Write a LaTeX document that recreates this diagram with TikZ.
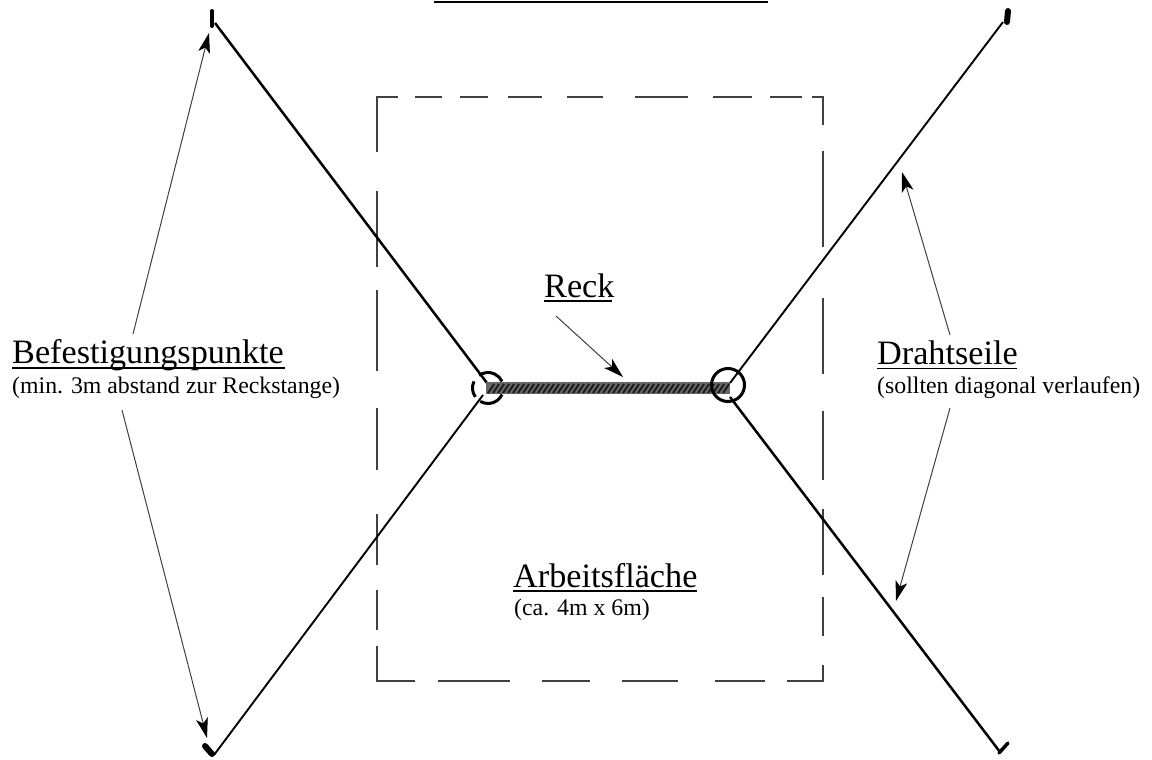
\documentclass[tikz,border=0pt]{standalone}
\usepackage{fontspec}
\setmainfont{Liberation Serif}
\usetikzlibrary{arrows.meta}
\tikzset{
  rope/.style={draw=black,line width=2.5pt},
  thinrope/.style={draw=black,line width=1.9pt},
  lead/.style={draw=black!75,line width=1pt,-{Stealth[length=20pt,width=12pt,inset=5pt,black]}},
  frame/.style={draw=black!75,line width=1.5pt},
  head/.style={inner sep=0pt,anchor=base west,font=\fontsize{34.2}{34.2}\selectfont},
  sub/.style={inner sep=0pt,anchor=base west,font=\fontsize{23.8}{23.8}\selectfont},
  ulinen/.style={draw=black,line width=1.7pt},
  eye/.style={draw=black,line width=3pt},
}
\begin{document}
\begin{tikzpicture}[x=1pt,y=-1pt]
\useasboundingbox (0,0) rectangle (1152,760);
\fill[white] (0,0) rectangle (1152,760);
% top rule
\coordinate (ra) at (434,2); \coordinate (rb) at (768,2);
\draw[draw=black,line width=2.4pt] (ra) -- (rb);
% frame top
\draw[frame] (398,97) -- (377,97) -- (377,152);
\foreach \a/\b in {415/442,460/488,508/542,567/603,635/688,713/752,770/802}{
  \draw[frame] (\a,97) -- (\b,97);}
\draw[frame] (812,97) -- (823,97) -- (823,125);
% frame right
\foreach \a/\b in {151/247,298/374,411/480,509/575,597/636}{
  \draw[frame] (823,\a) -- (823,\b);}
\draw[frame] (823,665) -- (823,681) -- (787,681);
% frame bottom
\foreach \a/\b in {438/510,542/590,622/678,715/765}{
  \draw[frame] (\a,681) -- (\b,681);}
\draw[frame] (415,681) -- (377,681) -- (377,646);
% frame left
\foreach \a/\b in {191/267,290/371,408/470,514/565,590/630}{
  \draw[frame] (377,\a) -- (377,\b);}
% wires
\coordinate (tl) at (215,23); \coordinate (bl) at (214,755);
\coordinate (tr) at (1003,22); \coordinate (br) at (1000,752);
\coordinate (hl1) at (487,383); \coordinate (hl2) at (483,395);
\coordinate (hr1) at (730,383); \coordinate (hr2) at (730,397);
\draw[rope] (tl) -- (hl1);
\draw[thinrope] (bl) -- (hl2);
\draw[thinrope] (tr) -- (hr1);
\draw[rope] (br) -- (hr2);
% anchors
\draw[line width=4pt,line cap=round] (212,11) -- (212,26);
\draw[line width=6pt,line cap=round] (205,746) -- (212,754);
\draw[line width=6pt,line cap=round] (1008,11) -- (1007,22);
\draw[line width=3.5pt,line cap=round] (999,753) -- (1008,743);
% bar
\coordinate (ba) at (486,388); \coordinate (bb) at (730,388);
\draw[line width=12pt,draw=black!60] (ba) -- (bb);
\foreach \i in {0,1,...,47}{
  \draw[black!90,line width=1.8pt] ({488+5*\i},393) -- ({494+5*\i},384);
}
% eyes
\coordinate (el) at (488,388); \coordinate (er) at (728,385);
\draw[eye] (el) ++(145:15.5) arc[start angle=145,end angle=205,radius=15.5];
\draw[eye] (el) ++(235:15.5) arc[start angle=235,end angle=335,radius=15.5];
\draw[eye] (el) ++(25:15.5) arc[start angle=25,end angle=120,radius=15.5];
\draw[eye] (er) circle[radius=16.5];
% labels
\node[head] (lb) at (12,363.5) {Befestigungspunkte};
\draw[ulinen] (12,368) -- (285,368);
\node[sub] (lbs) at (12,393) {(min. 3m abstand zur Reckstange)};
\node[head] (ld) at (877,364) {Drahtseile};
\draw[ulinen] (877,368.5) -- (1017,368.5);
\node[sub] (lds) at (877,393) {(sollten diagonal verlaufen)};
\node[head] (lr) at (544,297) {Reck};
\draw[ulinen] (544,301) -- (612,301);
\node[head] (la) at (513,587) {Arbeitsfläche};
\draw[ulinen] (513,591) -- (697,591);
\node[sub] (las) at (514,615) {(ca. 4m x 6m)};
% leaders
\coordinate (l1a) at (133,334); \coordinate (l1b) at (209,33);
\coordinate (l2a) at (122,410); \coordinate (l2b) at (207,738);
\coordinate (l3a) at (950,335); \coordinate (l3b) at (902,172);
\coordinate (l4a) at (950,408); \coordinate (l4b) at (896,601);
\coordinate (l5a) at (556,316); \coordinate (l5b) at (623,377);
\draw[lead] (l1a) -- (l1b);
\draw[lead] (l2a) -- (l2b);
\draw[lead] (l3a) -- (l3b);
\draw[lead] (l4a) -- (l4b);
\draw[lead] (l5a) -- (l5b);
\end{tikzpicture}
\end{document}
